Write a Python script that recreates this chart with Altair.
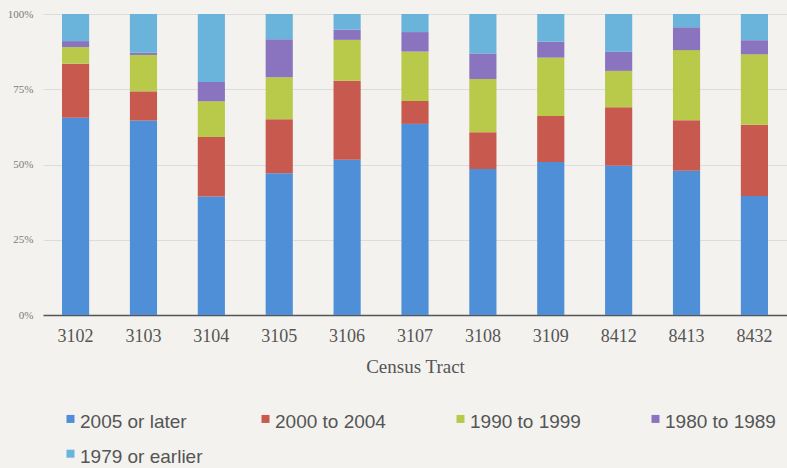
import altair as alt
import pandas as pd

# Census tracts along the x axis
tracts = ["3102", "3103", "3104", "3105", "3106", "3107",
          "3108", "3109", "8412", "8413", "8432"]

# Year the householder moved in, bottom of the stack first
periods = ["2005 or later", "2000 to 2004", "1990 to 1999",
           "1980 to 1989", "1979 or earlier"]

# Share of households (%) per tract for each period
share_2005_later = [65.5, 64.6, 39.4, 47.1, 51.6, 63.5, 48.5, 50.8, 49.6, 47.9, 39.5]
share_2000_2004 = [18.0, 9.7, 19.7, 17.9, 26.2, 7.6, 12.2, 15.3, 19.4, 16.8, 23.7]
share_1990_1999 = [5.5, 12.1, 11.9, 14.0, 13.6, 16.4, 17.7, 19.4, 12.1, 23.3, 23.4]
share_1980_1989 = [2.0, 0.7, 6.4, 12.6, 3.4, 6.5, 8.5, 5.3, 6.4, 7.6, 4.7]
share_1979_earlier = [9.0, 12.9, 22.6, 8.4, 5.2, 6.0, 13.1, 9.2, 12.5, 4.4, 8.7]

colors = ["#4f8fd8", "#c8594e", "#b9c94a", "#8a74c0", "#6ab4dc"]

series = [share_2005_later, share_2000_2004, share_1990_1999,
          share_1980_1989, share_1979_earlier]
rows = []
for i, (period, vals) in enumerate(zip(periods, series)):
    for tract, v in zip(tracts, vals):
        rows.append({"tract": tract, "period": period, "share": v, "order": i})
df = pd.DataFrame(rows)

serif = "Liberation Serif"
sans = "Liberation Sans"

chart = (
    alt.Chart(df)
    .mark_bar()
    .encode(
        x=alt.X(
            "tract:N",
            sort=tracts,
            scale=alt.Scale(paddingInner=0.6, paddingOuter=0.28),
            axis=alt.Axis(
                title="Census Tract",
                labelAngle=0,
                labelFont=serif,
                labelFontSize=18,
                labelColor="#555555",
                labelPadding=12,
                ticks=False,
                domainColor="#555555",
                domainWidth=1.5,
                grid=False,
                titleFont=serif,
                titleFontSize=19,
                titleFontWeight="normal",
                titleColor="#555555",
                titlePadding=12,
            ),
        ),
        y=alt.Y(
            "share:Q",
            stack="normalize",
            axis=alt.Axis(
                title=None,
                format=".0%",
                values=[0, 0.25, 0.5, 0.75, 1],
                labelFont=serif,
                labelFontSize=11,
                labelColor="#7a7a7a",
                labelPadding=10,
                ticks=False,
                domain=False,
                gridColor="#dcdcdc",
                gridWidth=1,
            ),
        ),
        color=alt.Color(
            "period:N",
            sort=periods,
            scale=alt.Scale(domain=periods, range=colors),
            legend=alt.Legend(
                title=None,
                orient="none",
                legendX=18,
                legendY=398,
                direction="horizontal",
                columns=4,
                gridAlign="all",
                columnPadding=53,
                rowPadding=15,
                padding=0,
                symbolType="M-1,-1.7H1V0.3H-1Z",
                symbolSize=64,
                symbolStrokeWidth=0,
                symbolOpacity=1,
                labelOffset=0,
                labelFont=sans,
                labelFontSize=19,
                labelColor="#555555",
                labelLimit=300,
            ),
        ),
        order=alt.Order("order:Q", sort="ascending"),
    )
    .properties(
        width=744,
        height=301,
        background="#f3f2ef",
        autosize=alt.AutoSizeParams(type="none"),
        padding={"left": 43, "top": 14, "right": 0, "bottom": 153},
    )
    .configure_view(stroke=None)
)

chart.save("out.html", embed_options={"renderer": "svg", "actions": False})
